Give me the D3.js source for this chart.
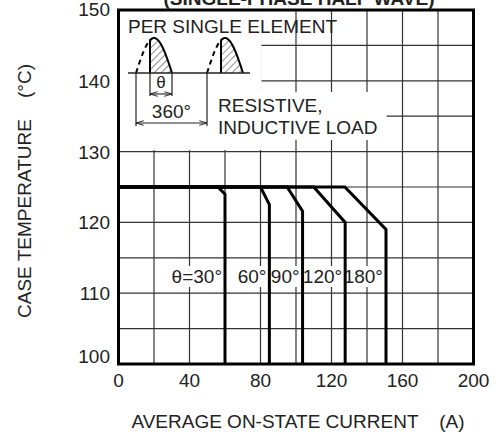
<!DOCTYPE html>
<html>
<head>
<meta charset="utf-8">
<script src="https://cdn.jsdelivr.net/npm/d3@7"></script>
<style>
  html, body { margin: 0; padding: 0; background: #fff; }
  svg { display: block; }
  text { font-family: "Liberation Sans", Arial, sans-serif; fill: #222; }
</style>
</head>
<body>
<svg id="chart" width="496" height="435"></svg>
<script>
'use strict';

// ---- Data -------------------------------------------------------------------

const xTicks = [0, 40, 80, 120, 160, 200];
const yTicks = [100, 110, 120, 130, 140, 150];
const xGrid = d3.range(0, 201, 20);
const yGrid = d3.range(100, 151, 5);

// Derating curves per conduction angle.
const angleLabels = ['θ=30°', '60°', '90°', '120°', '180°'];
const kneeCurrent = [56, 80, 95, 110, 127.5];      // A, where derating starts
const maxCurrent  = [60, 85, 103.7, 127.7, 150.7]; // A, vertical limit
const endTemp     = [124, 122.5, 121.6, 120, 119]; // °C, at the vertical limit
const ratedTemp = 125;

// ---- Setup ------------------------------------------------------------------

const svg = d3.select('#chart');
const x = d3.scaleLinear().domain([0, 200]).range([118.5, 473.5]);
const y = d3.scaleLinear().domain([100, 150]).range([364, 10]);

const defs = svg.append('defs');
defs.append('pattern')
  .attr('id', 'hatch')
  .attr('patternUnits', 'userSpaceOnUse')
  .attr('width', 5).attr('height', 5)
  .attr('patternTransform', 'rotate(45)')
  .append('line')
  .attr('x1', 0).attr('y1', 0).attr('x2', 0).attr('y2', 5)
  .attr('stroke', '#222').attr('stroke-width', 1);

defs.append('marker')
  .attr('id', 'arr')
  .attr('viewBox', '0 -5 10 10')
  .attr('refX', 10).attr('refY', 0)
  .attr('markerWidth', 7).attr('markerHeight', 7)
  .attr('orient', 'auto-start-reverse')
  .append('path')
  .attr('d', 'M0,-3L10,0L0,3')
  .attr('fill', 'none').attr('stroke', '#222').attr('stroke-width', 1.2);

// ---- Grid -------------------------------------------------------------------

const grid = svg.append('g').attr('stroke', '#333').attr('stroke-width', 1.2);
grid.selectAll('.gx').data(xGrid).join('line')
  .attr('x1', d => x(d)).attr('x2', d => x(d))
  .attr('y1', y(150)).attr('y2', y(100));
grid.selectAll('.gy').data(yGrid).join('line')
  .attr('x1', x(0)).attr('x2', x(200))
  .attr('y1', d => y(d)).attr('y2', d => y(d));

// White areas for the inset and the curve labels.
svg.append('rect').attr('fill', '#fff')
  .attr('x', x(0)).attr('y', y(150))
  .attr('width', 143).attr('height', y(130) - y(150) - 1.5);
svg.append('rect').attr('fill', '#fff')
  .attr('x', x(0) + 142).attr('y', 92)
  .attr('width', 126).attr('height', 48);
svg.append('rect').attr('fill', '#fff')
  .attr('x', 160).attr('y', 266)
  .attr('width', 226).attr('height', 21);

// ---- Curves -----------------------------------------------------------------

const line = d3.line().x(d => x(d[0])).y(d => y(d[1]));
const curves = angleLabels.map((lab, i) => [
  [0, ratedTemp],
  [kneeCurrent[i], ratedTemp],
  [maxCurrent[i], endTemp[i]],
  [maxCurrent[i], 100]
]);
svg.append('g').selectAll('path').data(curves).join('path')
  .attr('d', line)
  .attr('fill', 'none')
  .attr('stroke', '#000')
  .attr('stroke-width', 3)
  .attr('stroke-linejoin', 'miter');

svg.append('g').selectAll('text').data(angleLabels).join('text')
  .attr('x', (d, i) => x(maxCurrent[i]) - 3)
  .attr('y', 283)
  .attr('text-anchor', 'end')
  .attr('font-size', 19)
  .text(d => d);

// Frame
svg.append('rect')
  .attr('x', x(0)).attr('y', y(150))
  .attr('width', x(200) - x(0)).attr('height', y(100) - y(150))
  .attr('fill', 'none').attr('stroke', '#000').attr('stroke-width', 3);

// ---- Axes labels ------------------------------------------------------------

svg.append('g').selectAll('text').data(xTicks).join('text')
  .attr('x', d => x(d)).attr('y', 387)
  .attr('text-anchor', 'middle')
  .attr('font-size', 19)
  .text(d => d);

svg.append('g').selectAll('text').data(yTicks).join('text')
  .attr('x', 110)
  .attr('y', d => y(d) + 7 - (d === 100 ? 8 : 0) + (d === 150 ? -1 : 0))
  .attr('text-anchor', 'end')
  .attr('font-size', 19)
  .text(d => d);

svg.append('text')
  .attr('x', 298).attr('y', 428)
  .attr('text-anchor', 'middle')
  .attr('font-size', 19)
  .style('white-space', 'pre')
  .text('AVERAGE ON-STATE CURRENT    (A)');

svg.append('text')
  .attr('transform', 'translate(31,191) rotate(-90)')
  .attr('text-anchor', 'middle')
  .attr('font-size', 19)
  .style('white-space', 'pre')
  .text('CASE TEMPERATURE    (°C)');

svg.append('text')
  .attr('x', 299).attr('y', 5)
  .attr('text-anchor', 'middle')
  .attr('font-size', 19)
  .attr('font-weight', 'bold')
  .text('(SINGLE-PHASE HALF WAVE)');

// ---- Inset: waveform sketch -------------------------------------------------

const inset = svg.append('g');
const base = 73, peak = 35, halfW = 36, period = 71, start0 = 136, cut = 14;

inset.append('text').attr('x', 128).attr('y', 33).attr('font-size', 19)
  .text('PER SINGLE ELEMENT');

function sinePts(a, b, x0) {
  return d3.range(a, b + 0.01, 0.5).map(px =>
    [px, base - peak * Math.sin(Math.PI * (px - x0) / halfW)]);
}

[0, 1].forEach(k => {
  const x0 = start0 + k * period;
  const dashed = sinePts(x0, x0 + cut, x0);
  const solid = sinePts(x0 + cut, x0 + halfW, x0);
  inset.append('path')
    .attr('d', d3.line()(dashed))
    .attr('fill', 'none').attr('stroke', '#000').attr('stroke-width', 2)
    .attr('stroke-dasharray', '5,4');
  inset.append('path')
    .attr('d', d3.line()([[x0 + cut, base], ...solid]) + 'Z')
    .attr('fill', 'url(#hatch)').attr('stroke', 'none');
  inset.append('path')
    .attr('d', d3.line()([[x0 + cut, base], ...solid]))
    .attr('fill', 'none').attr('stroke', '#000').attr('stroke-width', 2);
});

inset.append('line')
  .attr('x1', 128).attr('x2', 250).attr('y1', base).attr('y2', base)
  .attr('stroke', '#222').attr('stroke-width', 1.3);

// θ dimension
const thA = start0 + cut, thB = start0 + halfW;
[thA, thB].forEach(px => inset.append('line')
  .attr('x1', px).attr('x2', px).attr('y1', base).attr('y2', 96)
  .attr('stroke', '#222').attr('stroke-width', 1.2));
inset.append('line')
  .attr('x1', thA).attr('x2', thB).attr('y1', 94).attr('y2', 94)
  .attr('stroke', '#222').attr('stroke-width', 1.1)
  .attr('marker-start', 'url(#arr)').attr('marker-end', 'url(#arr)');
inset.append('text').attr('x', (thA + thB) / 2).attr('y', 88)
  .attr('text-anchor', 'middle').attr('font-size', 17).text('θ');

// 360° dimension
const pA = start0, pB = start0 + period;
[pA, pB].forEach(px => inset.append('line')
  .attr('x1', px).attr('x2', px).attr('y1', base).attr('y2', 126)
  .attr('stroke', '#222').attr('stroke-width', 1.2));
inset.append('line')
  .attr('x1', pA).attr('x2', pB).attr('y1', 123).attr('y2', 123)
  .attr('stroke', '#222').attr('stroke-width', 1.1)
  .attr('marker-start', 'url(#arr)').attr('marker-end', 'url(#arr)');
inset.append('text').attr('x', (pA + pB) / 2).attr('y', 118)
  .attr('text-anchor', 'middle').attr('font-size', 19).text('360°');

inset.append('text').attr('x', 218).attr('y', 112).attr('font-size', 19)
  .text('RESISTIVE,');
inset.append('text').attr('x', 218).attr('y', 134).attr('font-size', 19)
  .text('INDUCTIVE LOAD');
</script>
</body>
</html>
